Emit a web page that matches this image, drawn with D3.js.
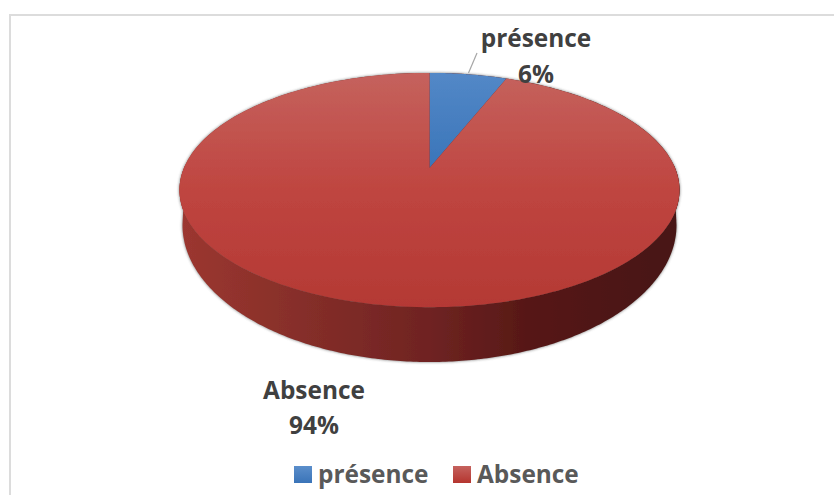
<!DOCTYPE html>
<html lang="fr">
<head>
<meta charset="utf-8">
<style>
html,body{margin:0;padding:0;background:#fff;}
svg{display:block;}
text{font-family:"Open Sans",Lato,sans-serif;font-weight:700;}
</style>
<script src="https://cdnjs.cloudflare.com/ajax/libs/d3/7.8.5/d3.min.js"></script>
</head>
<body>
<svg id="chart" width="834" height="495"></svg>
<script>
const categories = ["présence", "Absence"];
const values = [6, 94];
const percentLabels = ["6%", "94%"];
const faceStops = [
  [[0, "#5388c7"], [1, "#3a75b9"]],
  [[0, "#c5625d"], [0.5, "#bf4540"], [1, "#b43934"]]
];
const faceEnds = [168, 307];
const keyColors = [["#5b8ecb", "#3a74b8"], ["#c5625e", "#b5352f"]];

const W = 834, H = 495;
const cx = 429.5, cy = 190;      // centre of the disc outline on screen
const rimX = 250;                // half width of that outline
const tilt = 0.188;              // strength of the perspective foreshortening
const base = {cy: 225, rx: 247, ry: 137};   // lower outline of the disc's wall

const svg = d3.select("#chart");
const defs = svg.append("defs");

// Maps a point of the flat unit disc to screen space with a perspective divide.
const a = rimX * Math.sqrt(1 - tilt * tilt);
const b = 113, lift = 22;
function project(u, v) {
  const w = 1 + tilt * v;
  return [cx + a * u / w, cy - (b * v / w + lift)];
}
const rimPoint = angle => project(Math.sin(angle), Math.cos(angle));
const sampleArc = (start, end, n = 240, f = rimPoint) =>
  d3.range(n + 1).map(i => f(start + (end - start) * i / n));
const line = d3.line();

// Frame of the chart area
svg.append("path")
  .attr("d", `M10,${H} V15 H${W}`)
  .attr("fill", "none").attr("stroke", "#dcdcdc").attr("stroke-width", 2);

faceStops.forEach((stops, i) => {
  const g = defs.append("linearGradient").attr("id", `top${i}`)
    .attr("gradientUnits", "userSpaceOnUse")
    .attr("x1", 0).attr("x2", 0).attr("y1", 73).attr("y2", faceEnds[i]);
  stops.forEach(([o, c]) => g.append("stop").attr("offset", o).attr("stop-color", c));
  const k = defs.append("linearGradient").attr("id", `key${i}`)
    .attr("x1", 0).attr("x2", 0).attr("y1", 0).attr("y2", 1);
  keyColors[i].forEach((c, j) => k.append("stop").attr("offset", j).attr("stop-color", c));
});

// Horizontal shading of the disc's outer wall
const wallGrad = defs.append("linearGradient").attr("id", "wall")
  .attr("gradientUnits", "userSpaceOnUse")
  .attr("x1", cx - rimX).attr("x2", cx + rimX).attr("y1", 0).attr("y2", 0);
[[0, "#9c3730"], [0.25, "#852e29"], [0.5, "#6f2322"], [0.7, "#561816"], [1, "#471412"]]
  .forEach(([o, c]) => wallGrad.append("stop").attr("offset", o).attr("stop-color", c));

defs.append("filter").attr("id", "soft")
  .attr("x", "-5%").attr("y", "-5%").attr("width", "110%").attr("height", "110%")
  .append("feGaussianBlur").attr("stdDeviation", 1.6);
defs.append("filter").attr("id", "edge")
  .attr("x", "-2%").attr("y", "-2%").attr("width", "104%").attr("height", "104%")
  .append("feGaussianBlur").attr("stdDeviation", 0.6);

// Wall: the front half of the rim joined to the lower outline
const basePoint = t => [cx + base.rx * Math.sin(t), base.cy - base.ry * Math.cos(t)];
const frontRim = sampleArc(Math.PI / 2 - 0.03, 3 * Math.PI / 2 + 0.03);
const frontBase = sampleArc(3 * Math.PI / 2, Math.PI / 2, 240, basePoint);
const wallPath = line(frontRim.concat(frontBase)) + "Z";
const rimPath = line(sampleArc(0, 2 * Math.PI)) + "Z";

// Soft shadow behind the wall and the rim
svg.append("g").attr("filter", "url(#soft)").attr("opacity", 0.85)
  .selectAll("path").data([wallPath, rimPath]).join("path")
  .attr("d", d => d).attr("fill", "#5a5a5a");

const disc = svg.append("g").attr("filter", "url(#edge)");

// The rim is also filled with the wall colour so no seam opens under the face
disc.selectAll("path.wall").data([wallPath, rimPath]).join("path")
  .attr("class", "wall").attr("d", d => d).attr("fill", "url(#wall)");

// Top face, one sector per category
const arcs = d3.pie().sort(null).value(d => d)(values);
const apex = project(0, 0);
disc.selectAll("path.slice").data(arcs).join("path")
  .attr("class", "slice")
  .attr("d", d => "M" + apex.join(",") + "L" +
    sampleArc(d.startAngle, d.endAngle).map(p => p.join(",")).join("L") + "Z")
  .attr("fill", (d, i) => `url(#top${i})`);

// Leader line of the small sector
svg.append("line")
  .attr("x1", 477).attr("y1", 53).attr("x2", 468.5).attr("y2", 73)
  .attr("stroke", "#a6a6a6").attr("stroke-width", 1.2);

// Data labels
const labelSpots = [[536, 47, 536, 83], [314, 399, 314, 434]];
categories.forEach((name, i) => {
  const [x1, y1, x2, y2] = labelSpots[i];
  svg.append("text").attr("x", x1).attr("y", y1).attr("text-anchor", "middle")
    .attr("font-size", 24.4).attr("fill", "#404040").text(name);
  svg.append("text").attr("x", x2).attr("y", y2).attr("text-anchor", "middle")
    .attr("font-size", 24.4).attr("fill", "#404040").text(percentLabels[i]);
});

// Legend
const keys = [[294, 318], [453, 477]];
categories.forEach((name, i) => {
  svg.append("rect").attr("x", keys[i][0]).attr("y", 466)
    .attr("width", 18).attr("height", 17).attr("fill", `url(#key${i})`);
  svg.append("text").attr("x", keys[i][1]).attr("y", 483)
    .attr("font-size", 24.4).attr("fill", "#595959").text(name);
});
</script>
</body>
</html>
